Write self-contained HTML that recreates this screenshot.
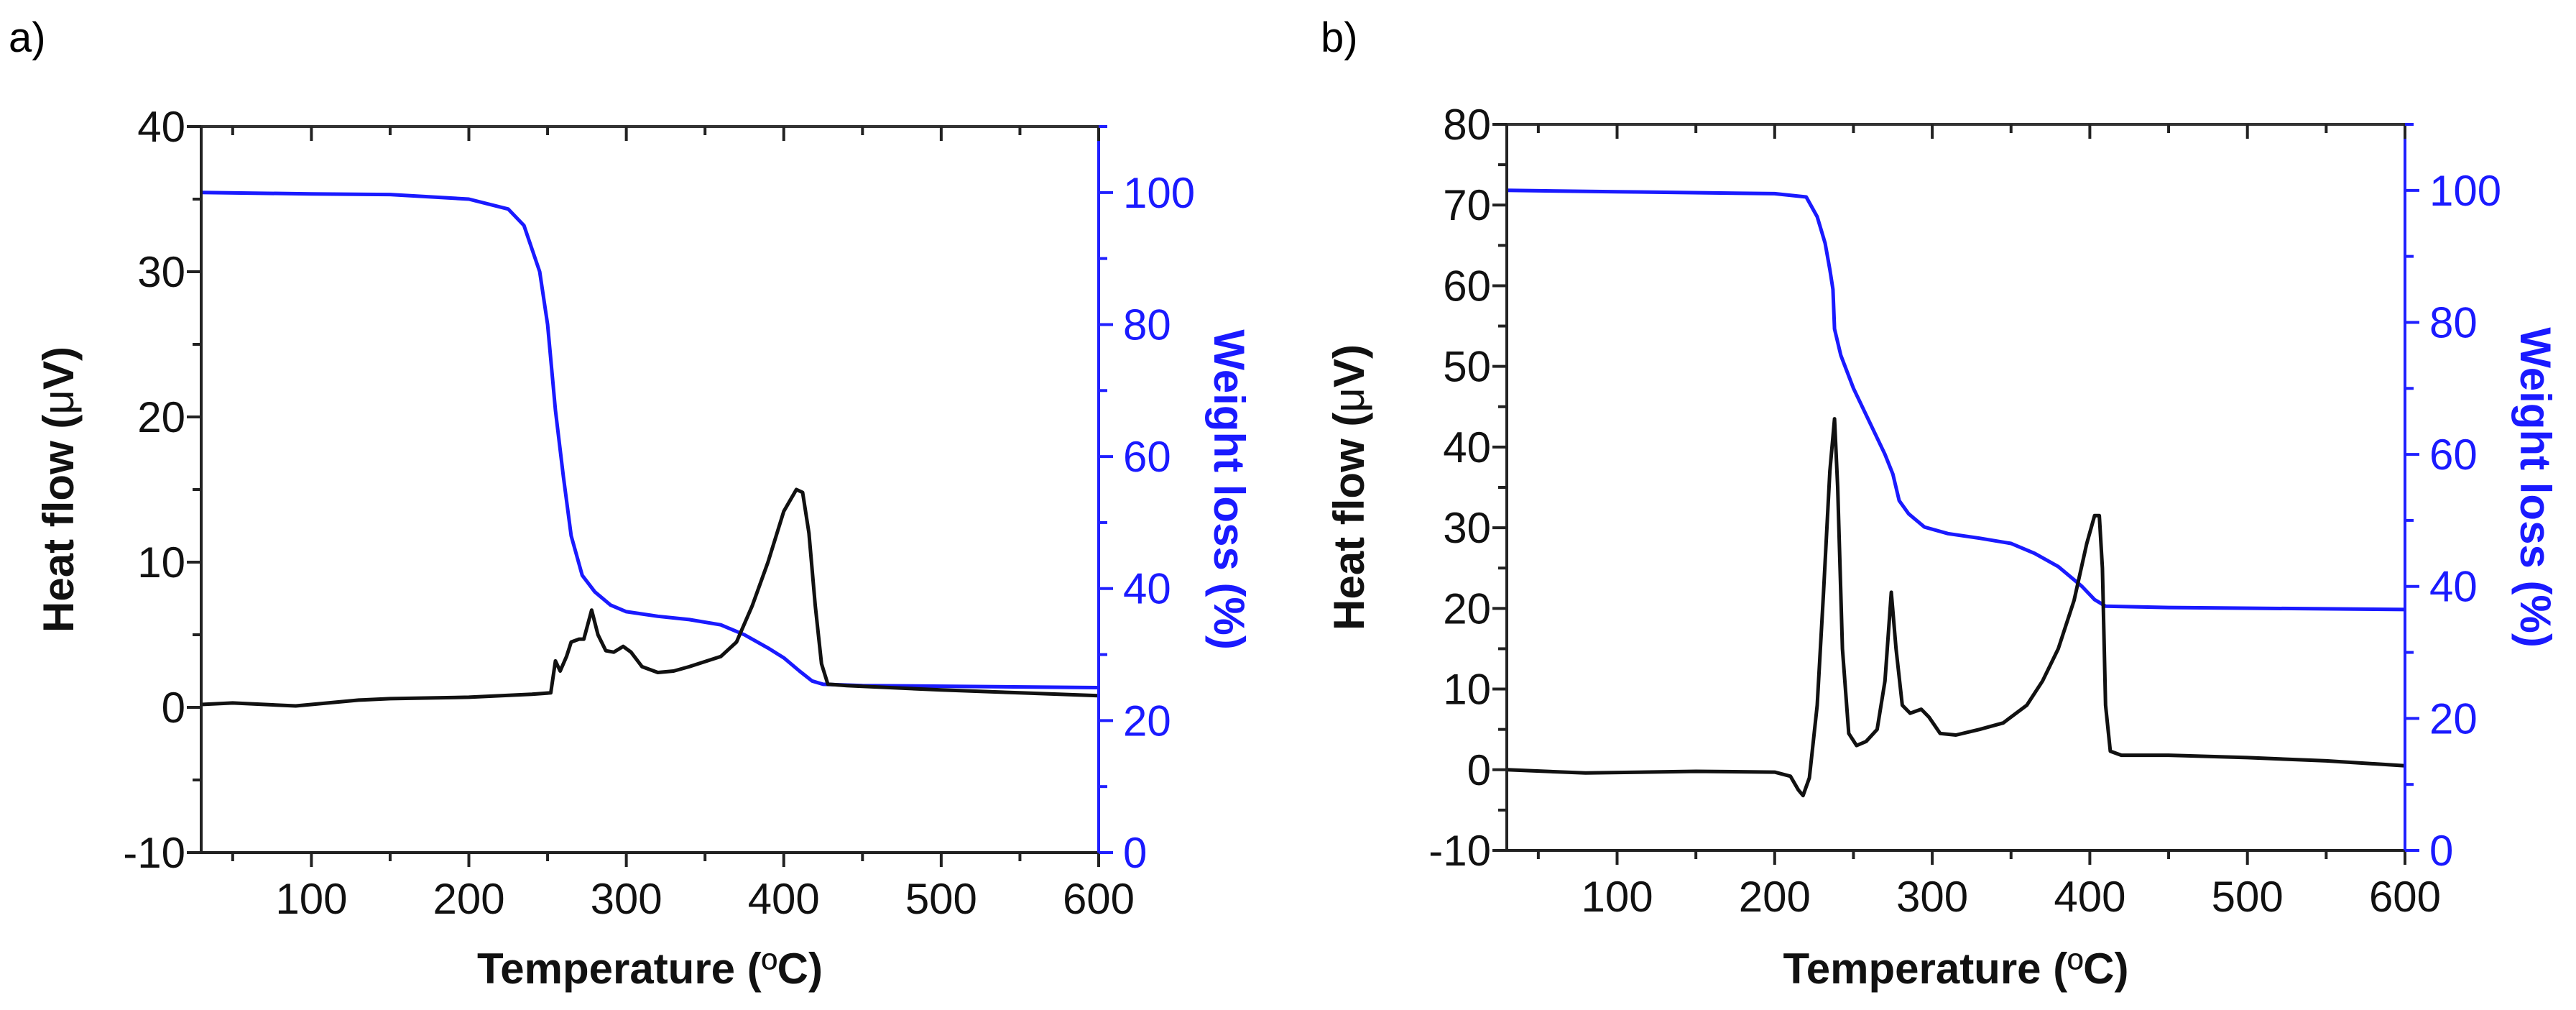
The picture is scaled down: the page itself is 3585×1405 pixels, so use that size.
<!DOCTYPE html>
<html><head><meta charset="utf-8"><style>
html,body{margin:0;padding:0;background:#fff;}
svg{display:block;font-family:"Liberation Sans",Arial,sans-serif;}
</style></head><body>
<svg id="fig" width="3585" height="1405" viewBox="0 0 3585 1405" xmlns="http://www.w3.org/2000/svg">
<text x="12" y="72" font-size="58" fill="#000">a)</text>
<text x="1838" y="72" font-size="58" fill="#000">b)</text>
</svg>
<script>
// Panel a data
const aHeatT = [30,50,90,100,130,150,200,240,252,255,258,262,265,270,273,278,282,287,292,298,303,310,320,330,340,360,370,380,390,400,408,412,416,420,424,428,440,500,550,600];
const aHeatV = [0.2,0.3,0.1,0.2,0.5,0.6,0.7,0.9,1.0,3.2,2.5,3.5,4.5,4.7,4.7,6.7,5,3.9,3.8,4.2,3.8,2.8,2.4,2.5,2.8,3.5,4.5,7,10,13.5,15,14.8,12,7,3,1.6,1.5,1.2,1.0,0.8];
const aWtT = [30,100,150,200,225,235,245,250,255,260,265,272,280,290,300,320,340,360,375,390,400,410,418,425,450,600];
const aWtV = [100,99.8,99.7,99,97.5,95,88,80,67,57,48,42,39.5,37.5,36.5,35.8,35.3,34.5,33,31,29.5,27.5,26,25.5,25.3,25];
// Panel b data
const bHeatT = [30,80,150,200,210,215,218,222,227,231,235,238,240,243,247,252,258,265,270,274,277,281,286,293,298,305,315,330,345,360,370,380,390,398,403,406,408,410,413,420,450,500,550,600];
const bHeatV = [0,-0.4,-0.2,-0.3,-0.8,-2.5,-3.2,-1,8,22,37,43.5,35,15,4.5,3,3.5,5,11,22,15,8,7,7.5,6.5,4.5,4.3,5,5.8,8,11,15,21,28,31.5,31.5,25,8,2.3,1.8,1.8,1.5,1.1,0.5];
const bWtT = [30,100,200,220,227,232,235,237,238,242,250,260,270,275,279,285,295,310,330,350,365,380,395,403,410,450,600];
const bWtV = [100,99.8,99.5,99,96,92,88,85,79,75,70,65,60,57,53,51,49,48,47.3,46.5,45,43,40,38,37,36.8,36.5];
const xTicks = [100,200,300,400,500,600];
const aLeftTicks = [-10,0,10,20,30,40];
const bLeftTicks = [-10,0,10,20,30,40,50,60,70,80];
const rightTicks = [0,20,40,60,80,100];

const NS="http://www.w3.org/2000/svg";
const svg=document.getElementById('fig');
function mk(tag,attrs,parent){const e=document.createElementNS(NS,tag);for(const k in attrs)e.setAttribute(k,attrs[k]);(parent||svg).appendChild(e);return e;}

function panel(p){
  const g=mk('g',{});
  
  
  const X=t=>p.x0+(t-30)/(570)*(p.x1-p.x0);
  const YL=v=>p.y1-(v-p.lmin)/(p.lmax-p.lmin)*(p.y1-p.y0);
  const YR=v=>p.y1-v/110*(p.y1-p.y0);
  // curves
  const wd=p.wtT.map((t,i)=>(i?'L':'M')+X(t).toFixed(1)+','+YR(p.wtV[i]).toFixed(1)).join('');
  const w=mk('path',{d:wd,fill:'none',stroke:'#1a1aff','stroke-width':5,'stroke-linejoin':'round'},g);
  
  
  const hd=p.heatT.map((t,i)=>(i?'L':'M')+X(t).toFixed(1)+','+YL(p.heatV[i]).toFixed(1)).join('');
  const h=mk('path',{d:hd,fill:'none',stroke:'#111','stroke-width':5,'stroke-linejoin':'round'},g);
  
  
  // axes
  mk('line',{x1:p.x0,y1:p.y0,x2:p.x1,y2:p.y0,stroke:'#333','stroke-width':4},g);
  mk('line',{x1:p.x0-2,y1:p.y1,x2:p.x1,y2:p.y1,stroke:'#222','stroke-width':4},g);
  mk('line',{x1:p.x0,y1:p.y0,x2:p.x0,y2:p.y1,stroke:'#222','stroke-width':4},g);
  mk('line',{x1:p.x1,y1:p.y0,x2:p.x1,y2:p.y1,stroke:'#2020ff','stroke-width':4},g);
  // x ticks
  for(let t=50;t<=600;t+=50){
    const major=t%100===0, xx=X(t);
    mk('line',{x1:xx,y1:p.y1,x2:xx,y2:p.y1+(major?20:12),stroke:'#222','stroke-width':4},g);
    mk('line',{x1:xx,y1:p.y0,x2:xx,y2:p.y0+(major?20:12),stroke:'#222','stroke-width':4},g);
  }
  xTicks.forEach(t=>{const e=mk('text',{x:X(t),y:p.y1+85,'font-size':60,'text-anchor':'middle',fill:'#111'},g);e.textContent=t;
    
    });
  // left ticks
  for(let v=p.lmin;v<=p.lmax;v+=5){
    const major=v%10===0;
    mk('line',{x1:p.x0,y1:YL(v),x2:p.x0-(major?20:12),y2:YL(v),stroke:'#222','stroke-width':4},g);
  }
  p.lt.forEach(v=>{const e=mk('text',{x:p.x0-22,y:YL(v)+21,'font-size':60,'text-anchor':'end',fill:'#111'},g);e.textContent=v;
    
    });
  // right ticks
  for(let v=0;v<=110;v+=10){
    const major=v%20===0;
    mk('line',{x1:p.x1,y1:YR(v),x2:p.x1+(major?20:12),y2:YR(v),stroke:'#2020ff','stroke-width':4},g);
  }
  rightTicks.forEach(v=>{const e=mk('text',{x:p.x1+34,y:YR(v)+21,'font-size':60,fill:'#1a1aff'},g);e.textContent=v;
    
    });
  // titles
  const xt=mk('text',{x:(p.x0+p.x1)/2,y:1368,'font-size':60,'font-weight':'bold','text-anchor':'middle',fill:'#111'},g);
  xt.innerHTML='Temperature (<tspan font-weight="normal">º</tspan>C)';
  
  
  const yc=(p.y0+p.y1)/2;
  const yt=mk('text',{x:0,y:0,'font-size':60,'font-weight':'bold','text-anchor':'middle',fill:'#111',transform:`translate(${p.ylx},${yc}) rotate(-90)`},g);
  yt.innerHTML='Heat flow (<tspan font-weight="normal">μ</tspan>V)';
  
  
  const rt=mk('text',{x:0,y:0,'font-size':60,'font-weight':'bold','text-anchor':'middle',fill:'#1a1aff',transform:`translate(${p.yrx},${yc}) rotate(90)`},g);
  rt.textContent='Weight loss (%)';
  
  
}
panel({id:'panel-a',x0:280,x1:1529,y0:176,y1:1186,lmin:-10,lmax:40,lt:aLeftTicks,heatT:aHeatT,heatV:aHeatV,wtT:aWtT,wtV:aWtV,ylx:102,yrx:1690});
panel({id:'panel-b',x0:2097,x1:3347,y0:173,y1:1183,lmin:-10,lmax:80,lt:bLeftTicks,heatT:bHeatT,heatV:bHeatV,wtT:bWtT,wtV:bWtV,ylx:1898,yrx:3508});
</script>
</body></html>
